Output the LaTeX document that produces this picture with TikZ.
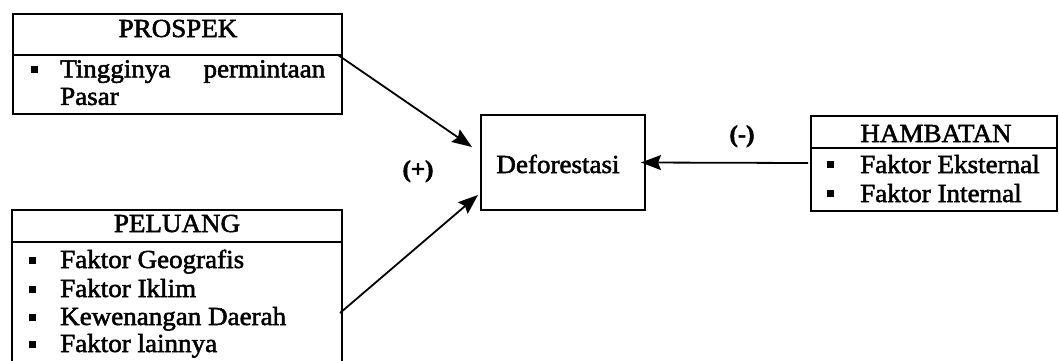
\documentclass[tikz,border=0pt]{standalone}
\usepackage{fontspec}
\setmainfont{Liberation Serif}[FakeStretch=1.04,FakeBold=2]
\usetikzlibrary{arrows.meta}
\begin{document}
\begin{tikzpicture}[x=1pt,y=1pt,
  frame/.style={draw, line width=2pt, inner sep=0pt, outer sep=0pt, anchor=north west},
  txt/.style={font=\fontsize{26}{27.5}\selectfont, inner sep=0pt},
  title/.style={txt, anchor=base},
  item/.style={txt, anchor=base west},
  bul/.style={fill, minimum size=7pt, inner sep=0pt, outer sep=0pt},
  sign/.style={font=\fontsize{24}{26}\selectfont\bfseries, inner sep=0pt, anchor=base},
  arr/.style={line width=1.8pt, -{Stealth[length=20pt,width=15pt,inset=3pt]}}]
\useasboundingbox (0,0) rectangle (1059,360);

% PROSPEK
\node[frame, minimum width=329pt, minimum height=41pt] (prospekHead) at (13,346) {};
\node[frame, minimum width=329pt, minimum height=59pt] (prospekBody) at (prospekHead.south west) {};
\node[title] (prospekT) at (178,323) {PROSPEK};
\node[bul] (pb1) at (34,291) {};
\node[txt, anchor=north west, text width=265pt, align=justify] (pi1) at (60,300) {Tingginya permintaan Pasar};

% PELUANG
\node[frame, minimum width=330pt, minimum height=32pt] (peluangHead) at (12,150) {};
\node[frame, minimum width=330pt, minimum height=140pt] (peluangBody) at (peluangHead.south west) {};
\node[title] (peluangT) at (177,128) {PELUANG};
\node[bul] (lb1) at (32,100) {};
\node[item] (li1) at (60,92) {Faktor Geografis};
\node[bul] (lb2) at (32,71) {};
\node[item] (li2) at (60,63) {Faktor Iklim};
\node[bul] (lb3) at (32,43) {};
\node[item] (li3) at (60,35) {Kewenangan Daerah};
\node[bul] (lb4) at (32,16) {};
\node[item] (li4) at (60,8) {Faktor lainnya};

% Deforestasi
\node[frame, minimum width=164pt, minimum height=95pt] (defor) at (481,245) {};
\node[title] (deforT) at (558,187) {Deforestasi};

% HAMBATAN
\node[frame, minimum width=246pt, minimum height=32pt] (hambHead) at (811,244) {};
\node[frame, minimum width=246pt, minimum height=63pt] (hambBody) at (hambHead.south west) {};
\node[title] (hambT) at (936,218) {HAMBATAN};
\node[bul] (hb1) at (830,196) {};
\node[item] (hi1) at (860,187) {Faktor Eksternal};
\node[bul] (hb2) at (830,167) {};
\node[item] (hi2) at (860,158) {Faktor Internal};

% signs
\node[sign] (plus) at (418,183) {(+)};
\node[sign] (minus) at (742,218) {(-)};

% connectors
\draw[arr] ([xshift=-4pt]prospekBody.north east) -- ([xshift=-9pt,yshift=-32pt]defor.north west);
\draw[arr] ([xshift=-2pt,yshift=-71pt]peluangBody.north east) -- ([xshift=-3pt,yshift=15pt]defor.south west);
\draw[arr] ([xshift=-3pt,yshift=16.5pt]hambBody.west) -- ([xshift=-4pt]defor.east);
\end{tikzpicture}
\end{document}
